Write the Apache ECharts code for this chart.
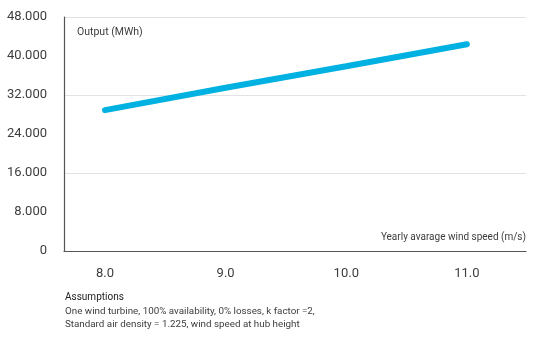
<!DOCTYPE html>
<html>
<head>
<meta charset="utf-8">
<script src="https://cdn.jsdelivr.net/npm/echarts@6/dist/echarts.min.js"></script>
<style>
  html, body { margin: 0; padding: 0; background: #fff; }
  #chart { width: 539px; height: 350px; }
</style>
</head>
<body>
<div id="chart"></div>
<script>
'use strict';
// Yearly output of one wind turbine vs. average wind speed

const windSpeeds = [8, 9, 10, 11];
const outputMWh = [28900, 33500, 37900, 42400];
const xTicks = [8, 9, 10, 11];
const yLabelStep = 8000;
const yGridStep = 16000;

const INK = '#3d3d3d';
const FONT = "Roboto, 'Open Sans', sans-serif";

function fmtThousands(v) {
  return String(v).replace(/\B(?=(\d{3})+(?!\d))/g, '.');
}

const chart = echarts.init(document.getElementById('chart'));
chart.setOption({
  animation: false,
  textStyle: { fontFamily: FONT },
  grid: { left: 64, right: 13, top: 17, bottom: 99 },
  xAxis: {
    type: 'value', min: 7.66, max: 11.49,
    axisLine: { lineStyle: { color: '#555', width: 1.2 } },
    axisTick: { show: false },
    splitLine: { show: false },
    axisLabel: {
      customValues: xTicks, margin: 16, color: INK, fontSize: 13, fontFamily: FONT,
      formatter: v => v.toFixed(1)
    }
  },
  yAxis: [
    {
      type: 'value', min: 0, max: 48000, interval: yLabelStep,
      axisLine: { show: true, lineStyle: { color: '#555', width: 1.2 } },
      axisTick: { show: false },
      splitLine: { show: false },
      axisLabel: { margin: 17, color: INK, fontSize: 13, fontFamily: FONT, formatter: fmtThousands }
    },
    {
      type: 'value', min: 0, max: 48000, interval: yGridStep, position: 'left',
      axisLine: { show: false }, axisTick: { show: false }, axisLabel: { show: false },
      splitLine: { lineStyle: { color: '#e3e3e3', width: 1.2 } }
    }
  ],
  graphic: [
    { type: 'text', left: 77, top: 27, style: { text: 'Output (MWh)', fill: INK, font: '10.5px ' + FONT } },
    { type: 'text', right: 13, top: 232, style: { text: 'Yearly avarage wind speed (m/s)', fill: INK, font: '10px ' + FONT } },
    { type: 'text', left: 65, top: 292, style: { text: 'Assumptions', fill: '#222', font: '10px ' + FONT } },
    {
      type: 'text', left: 65, top: 305,
      style: {
        text: 'One wind turbine, 100% availability, 0% losses, k factor =2,\nStandard air density = 1.225, wind speed at hub height',
        fill: INK, font: '9.8px ' + FONT, lineHeight: 13
      }
    }
  ],
  series: [{
    type: 'line',
    data: windSpeeds.map((w, i) => [w, outputMWh[i]]),
    symbol: 'none',
    lineStyle: { color: '#00b1e1', width: 6, cap: 'round' }
  }]
});
</script>
</body>
</html>
